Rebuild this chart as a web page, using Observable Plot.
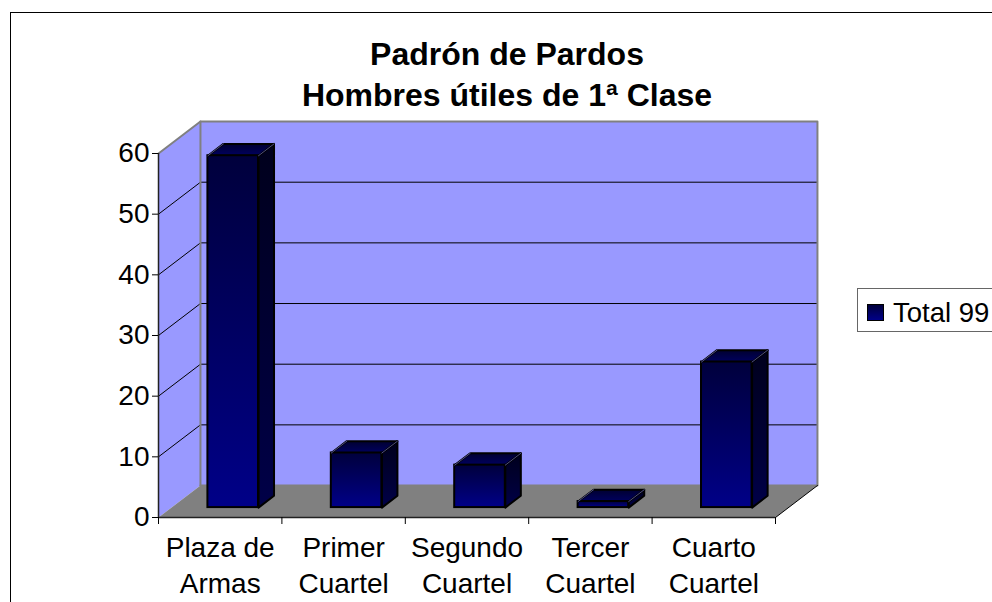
<!DOCTYPE html>
<html><head><meta charset="utf-8">
<script src="https://cdn.jsdelivr.net/npm/d3@7"></script>
<script src="https://cdn.jsdelivr.net/npm/@observablehq/plot@0.6"></script>
<style>
html,body{margin:0;padding:0;background:#fff;overflow:hidden}
#page{position:relative;width:992px;height:602px;overflow:hidden;font-family:"Liberation Sans",Arial,sans-serif;color:#000}
#page svg{position:absolute;left:0;top:0}
#frame{position:absolute;left:10px;top:12px;width:1100px;height:800px;border:1px solid #000}
#title{position:absolute;left:207px;width:600px;top:34px;text-align:center;font-weight:bold;font-size:32px;line-height:41px}
#legend{position:absolute;left:857px;top:288px;width:300px;height:42px;border:1px solid #666;background:#fff}
#swatch{position:absolute;left:9px;top:15px;width:15px;height:15px;border:1.5px solid #000;background:linear-gradient(#00003c,#000088)}
#legendText{position:absolute;left:35px;top:8px;font-size:27.5px;line-height:32px;white-space:nowrap}
</style></head><body><div id="page"></div>
<script>
const categories = ["Plaza de\nArmas", "Primer\nCuartel", "Segundo\nCuartel", "Tercer\nCuartel", "Cuarto\nCuartel"];
const values = [58, 9, 7, 1, 24];
const yTicks = [0, 10, 20, 30, 40, 50, 60];
const xTicks = [0, 1, 2, 3, 4, 5];
const titleLines = ["Padrón de Pardos", "Hombres útiles de 1ª Clase"];
const seriesName = "Total 99";

// oblique projection of the depth axis, in data units
const DX = 0.34, DY = 5.27, barWidth = 0.41, dFront = 0.31, dBack = 0.68, xMax = 5, yMax = 60;
const P = (c, v, d = 0) => ({x: c + d * DX, y: v + d * DY});
const poly = (id, pts) => [...pts, pts[0]].map((p) => ({...p, id}));

const leftWall = poly("l", [P(0,0), P(0,yMax), P(0,yMax,1), P(0,0,1)]);
const backWall = poly("b", [P(0,0,1), P(0,yMax,1), P(xMax,yMax,1), P(xMax,0,1)]);
const floor = poly("f", [P(0,0), P(0,0,1), P(xMax,0,1), P(xMax,0)]);
const gridBack = yTicks.slice(1, -1).flatMap((v) => [P(0,v,1), P(xMax,v,1)].map((p) => ({...p, id:v})));
const gridLeft = yTicks.slice(1, -1).flatMap((v) => [P(0,v), P(0,v,1)].map((p) => ({...p, id:v})));

const bars = values.map((v, i) => ({v, l: i + 0.5 - barWidth / 2, r: i + 0.5 + barWidth / 2, i}));
const sides = bars.flatMap((b) => poly(b.i, [P(b.r,0,dFront), P(b.r,b.v,dFront), P(b.r,b.v,dBack), P(b.r,0,dBack)]));
const tops = bars.flatMap((b) => poly(b.i, [P(b.l,b.v,dFront), P(b.l,b.v,dBack), P(b.r,b.v,dBack), P(b.r,b.v,dFront)]));
const glints = bars.flatMap((b) => [
  ...[P(b.r,b.v,dFront), P(b.r,b.v,dBack)].map((p) => ({...p, id:"r"+b.i})),
  ...[P(b.l,b.v,dFront), P(b.l,b.v,dBack)].map((p) => ({...p, id:"l"+b.i}))
]);

const defs = () => {
  const s = d3.create("svg:g");
  const d = s.append("defs");
  const grad = (id, a, b) => {
    const g = d.append("linearGradient").attr("id", id).attr("x1", 0).attr("y1", 0).attr("x2", 0).attr("y2", 1);
    g.append("stop").attr("offset", "0%").attr("stop-color", a);
    g.append("stop").attr("offset", "100%").attr("stop-color", b);
  };
  grad("front", "#00003c", "#000088");
  grad("side", "#00001c", "#000048");
  grad("top", "#000030", "#000060");
  return s.node();
};

const fs = 28;
const chart = Plot.plot({
  width: 992, height: 602,
  marginLeft: 158, marginRight: 217, marginTop: 153, marginBottom: 85,
  style: {background: "transparent", fontFamily: '"Liberation Sans",Arial,sans-serif', color: "#000", overflow: "visible"},
  x: {domain: [0, xMax], axis: null},
  y: {domain: [0, yMax], axis: null},
  marks: [
    defs,
    Plot.line(leftWall, {x:"x", y:"y", z:"id", fill:"#9999ff", stroke:"none"}),
    Plot.line(backWall, {x:"x", y:"y", z:"id", fill:"#9999ff", stroke:"none"}),
    Plot.line(floor, {x:"x", y:"y", z:"id", fill:"#808080", stroke:"none"}),
    Plot.line(gridBack, {x:"x", y:"y", z:"id", stroke:"#000", strokeWidth:1}),
    Plot.line(gridLeft, {x:"x", y:"y", z:"id", stroke:"#000", strokeWidth:1}),
    Plot.line(leftWall.slice(1,3).concat(backWall.slice(2,4)).concat([backWall[0]]).map((p) => ({...p, id:"e"})), {x:"x", y:"y", z:"id", stroke:"#808080", strokeWidth:2}),
    Plot.line([P(0,yMax,1), P(0,0,1)], {x:"x", y:"y", stroke:"#808080", strokeWidth:2}),
    Plot.line([P(xMax,0), P(xMax,0,1)], {x:"x", y:"y", stroke:"#000", strokeWidth:1}),
    Plot.ruleX([0], {stroke:"#222", strokeWidth:1.5}),
    Plot.ruleY([0], {stroke:"#222", strokeWidth:1.5}),
    Plot.axisY({ticks: yTicks, tickSize: 6, tickPadding: 3, fontSize: fs, label: null, tickFormat: (d) => d}),
    Plot.axisX({ticks: xTicks, tickSize: 7, label: null, tickFormat: () => ""}),
    Plot.text(categories, {x: (d, i) => i + 0.5, y: 0, text: (d) => d, fontSize: fs, lineAnchor: "top", lineHeight: 1.29, dy: 14, fill:"#000"}),
    Plot.line(sides, {x:"x", y:"y", z:"id", fill:"url(#side)", stroke:"#000", strokeWidth:2}),
    Plot.line(tops, {x:"x", y:"y", z:"id", fill:"url(#top)", stroke:"#000", strokeWidth:2}),
    Plot.rect(bars, {x1: (b) => b.l + dFront * DX, x2: (b) => b.r + dFront * DX, y1: () => dFront * DY, y2: (b) => b.v + dFront * DY, fill:"url(#front)", stroke:"#000", strokeWidth:2}),
    Plot.line(glints, {x:"x", y:"y", z:"id", stroke:"#7070c0", strokeWidth:0.7})
  ]
});

const page = document.getElementById("page");
const frame = document.createElement("div"); frame.id = "frame";
page.append(chart, frame);
const title = document.createElement("div"); title.id = "title";
title.innerHTML = titleLines.join("<br>");
page.append(title);
const legend = document.createElement("div"); legend.id = "legend";
const sw = document.createElement("div"); sw.id = "swatch";
const lt = document.createElement("div"); lt.id = "legendText"; lt.textContent = seriesName;
legend.append(sw, lt); page.append(legend);
</script></body></html>
